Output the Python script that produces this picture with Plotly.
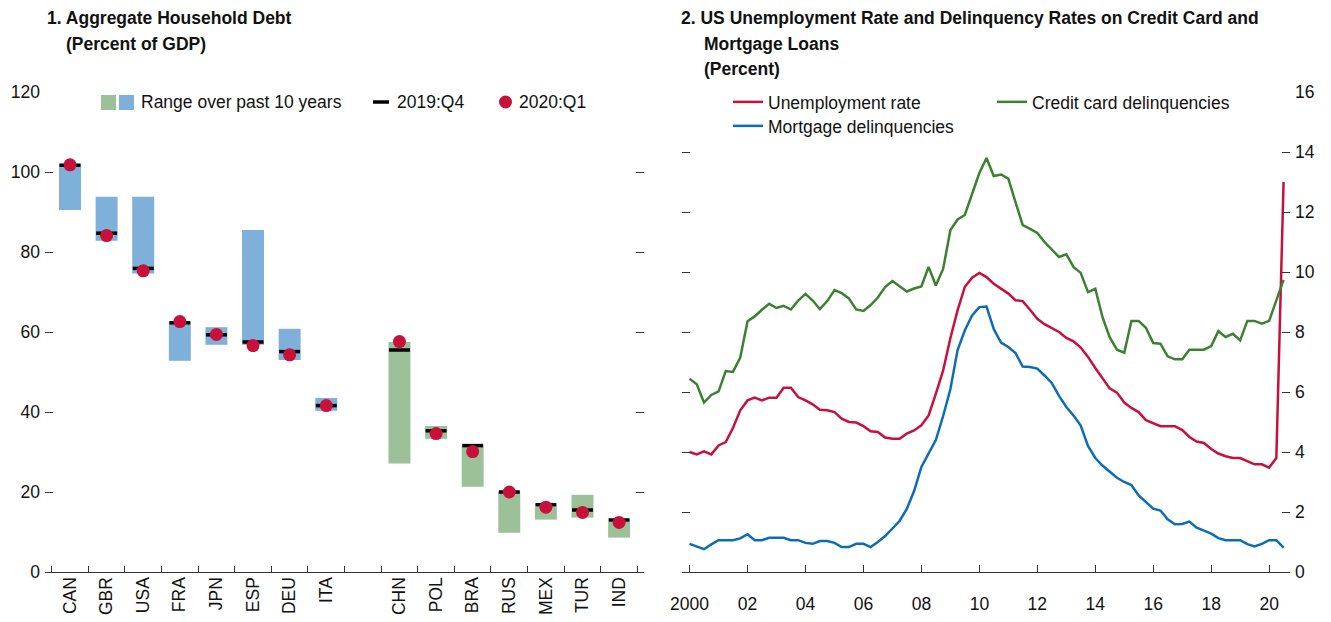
import plotly.graph_objects as go
import pandas as pd

# ---------------- Panel 1: Aggregate household debt (percent of GDP) ----------------
adv_countries = ["CAN", "GBR", "USA", "FRA", "JPN", "ESP", "DEU", "ITA"]
eme_countries = ["CHN", "POL", "BRA", "RUS", "MEX", "TUR", "IND"]
adv_low = [90.5, 82.8, 74.6, 52.8, 56.8, 56.8, 53.0, 40.3]
adv_high = [102.0, 93.8, 93.8, 62.5, 61.2, 85.5, 60.8, 43.5]
adv_2019q4 = [101.7, 84.7, 75.9, 62.3, 59.3, 57.5, 55.1, 41.6]
adv_2020q1 = [101.8, 84.1, 75.3, 62.6, 59.4, 56.6, 54.3, 41.6]
eme_low = [27.1, 33.3, 21.3, 9.8, 13.1, 13.6, 8.6]
eme_high = [57.5, 36.5, 31.3, 20.0, 16.3, 19.3, 12.5]
eme_2019q4 = [55.5, 35.3, 31.6, 20.0, 16.8, 15.5, 13.0]
eme_2020q1 = [57.6, 34.6, 30.1, 20.0, 16.2, 14.9, 12.4]
spacer = [" "]
left_yticks = [0, 20, 40, 60, 80, 100, 120]

# ---------------- Panel 2: US unemployment and delinquency rates (percent) ----------------
quarters = pd.date_range("2000-01-01", periods=83, freq="QS")
unemployment = [
    4.00, 3.92, 4.02, 3.92, 4.22, 4.33, 4.80, 5.39, 5.72, 5.81,
    5.72, 5.81, 5.81, 6.14, 6.14, 5.83, 5.72, 5.59, 5.41, 5.39,
    5.33, 5.11, 5.00, 4.98, 4.86, 4.69, 4.67, 4.48, 4.44, 4.44,
    4.61, 4.72, 4.89, 5.22, 5.94, 6.72, 7.80, 8.72, 9.50, 9.81,
    9.97, 9.83, 9.61, 9.44, 9.28, 9.06, 9.03, 8.74, 8.44, 8.26,
    8.13, 8.00, 7.80, 7.69, 7.48, 7.17, 6.80, 6.45, 6.12, 5.98,
    5.65, 5.47, 5.33, 5.06, 4.97, 4.86, 4.86, 4.86, 4.73, 4.50,
    4.35, 4.30, 4.10, 3.95, 3.86, 3.80, 3.80, 3.70, 3.59, 3.59,
    3.48, 3.80, 13.00,
]
credit_card = [
    6.44, 6.26, 5.65, 5.90, 6.02, 6.70, 6.67, 7.15, 8.36, 8.52,
    8.74, 8.94, 8.80, 8.87, 8.75, 9.05, 9.27, 9.05, 8.76, 9.03,
    9.40, 9.30, 9.12, 8.75, 8.70, 8.90, 9.15, 9.50, 9.70, 9.52,
    9.35, 9.45, 9.52, 10.17, 9.55, 10.10, 11.40, 11.75, 11.90, 12.60,
    13.30, 13.80, 13.20, 13.25, 13.11, 12.33, 11.56, 11.44, 11.30, 11.00,
    10.75, 10.50, 10.59, 10.17, 9.97, 9.33, 9.44, 8.50, 7.83, 7.41,
    7.31, 8.37, 8.37, 8.14, 7.63, 7.61, 7.19, 7.09, 7.09, 7.41,
    7.41, 7.41, 7.53, 8.03, 7.83, 7.94, 7.72, 8.37, 8.37, 8.28,
    8.37, 9.06, 9.74,
]
mortgage = [
    0.94, 0.86, 0.76, 0.92, 1.06, 1.06, 1.06, 1.12, 1.26, 1.06,
    1.06, 1.14, 1.14, 1.14, 1.06, 1.06, 0.97, 0.94, 1.03, 1.03,
    0.97, 0.83, 0.83, 0.94, 0.94, 0.83, 1.00, 1.20, 1.45, 1.70,
    2.10, 2.70, 3.50, 3.95, 4.40, 5.20, 6.10, 7.40, 8.05, 8.55,
    8.83, 8.85, 8.10, 7.65, 7.50, 7.30, 6.85, 6.83, 6.78, 6.55,
    6.30, 5.87, 5.50, 5.22, 4.88, 4.20, 3.80, 3.55, 3.35, 3.14,
    3.00, 2.90, 2.55, 2.34, 2.11, 2.05, 1.76, 1.59, 1.60, 1.68,
    1.48, 1.38, 1.28, 1.13, 1.06, 1.06, 1.06, 0.93, 0.85, 0.94,
    1.06, 1.06, 0.81,
]
right_tick_years = ["2000", "2002", "2004", "2006", "2008", "2010",
                    "2012", "2014", "2016", "2018", "2020"]
right_tick_text = ["2000", "02", "04", "06", "08", "10", "12", "14", "16", "18", "20"]
right_yticks = [0, 2, 4, 6, 8, 10, 12, 14, 16]

# ---------------- styling ----------------
FONT = "Liberation Sans, Arial, sans-serif"
FS = 17.5
RED = "#C8103A"
GREEN = "#3C8031"
BLUE = "#0B6CB8"
BAR_BLUE = "#7FB0D9"
BAR_GREEN = "#9CC199"
AX = "#333333"
TXT = "#111111"
W, H = 1331, 622


def px_x(p):
    return p / W


def px_y(p):
    return 1 - p / H


fig = go.Figure()

cats = adv_countries + spacer + eme_countries

# range bars
fig.add_trace(go.Bar(x=adv_countries, y=[h - l for h, l in zip(adv_high, adv_low)], base=adv_low,
                     marker=dict(color=BAR_BLUE, line=dict(width=0)), width=0.6,
                     showlegend=False, xaxis="x", yaxis="y", hoverinfo="skip"))
fig.add_trace(go.Bar(x=eme_countries, y=[h - l for h, l in zip(eme_high, eme_low)], base=eme_low,
                     marker=dict(color=BAR_GREEN, line=dict(width=0)), width=0.6,
                     showlegend=False, xaxis="x", yaxis="y", hoverinfo="skip"))
# 2019:Q4 dashes
fig.add_trace(go.Scatter(x=adv_countries + eme_countries, y=adv_2019q4 + eme_2019q4, mode="markers",
                         marker=dict(symbol="line-ew", size=15, line=dict(width=3.5, color="black")),
                         showlegend=False, xaxis="x", yaxis="y"))
# 2020:Q1 dots
fig.add_trace(go.Scatter(x=adv_countries + eme_countries, y=adv_2020q1 + eme_2020q1, mode="markers",
                         marker=dict(symbol="circle", size=13, color=RED, line=dict(width=0)),
                         showlegend=False, xaxis="x", yaxis="y"))

# right panel lines
fig.add_trace(go.Scatter(x=quarters, y=unemployment, mode="lines", name="Unemployment rate",
                         line=dict(color=RED, width=2.5), xaxis="x2", yaxis="y2", legend="legend"))
fig.add_trace(go.Scatter(x=quarters, y=credit_card, mode="lines", name="Credit card delinquencies",
                         line=dict(color=GREEN, width=2.5), xaxis="x2", yaxis="y2", legend="legend"))
fig.add_trace(go.Scatter(x=quarters, y=mortgage, mode="lines", name="Mortgage delinquencies",
                         line=dict(color=BLUE, width=2.5), xaxis="x2", yaxis="y2", legend="legend2"))

ydom = [px_y(572), px_y(92)]

annotations = [
    dict(text="<b>1. Aggregate Household Debt</b>", x=px_x(45), y=px_y(18)),
    dict(text="<b>(Percent of GDP)</b>", x=px_x(64), y=px_y(44)),
    dict(text="<b>2. US Unemployment Rate and Delinquency Rates on Credit Card and</b>", x=px_x(679), y=px_y(18)),
    dict(text="<b>Mortgage Loans</b>", x=px_x(702), y=px_y(44)),
    dict(text="<b>(Percent)</b>", x=px_x(702), y=px_y(69)),
    dict(text="Range over past 10 years", x=px_x(139), y=px_y(102)),
    dict(text="2019:Q4", x=px_x(395), y=px_y(102)),
    dict(text="2020:Q1", x=px_x(517), y=px_y(102)),
]
for a in annotations:
    a.update(xref="paper", yref="paper", xanchor="left", yanchor="middle", showarrow=False,
             font=dict(family=FONT, size=FS, color=TXT))

shapes = [
    dict(type="rect", x0=px_x(101), x1=px_x(116), y0=px_y(110), y1=px_y(95),
         fillcolor=BAR_GREEN, line=dict(width=0)),
    dict(type="rect", x0=px_x(119), x1=px_x(134), y0=px_y(110), y1=px_y(95),
         fillcolor=BAR_BLUE, line=dict(width=0)),
    dict(type="line", x0=px_x(373), x1=px_x(389), y0=px_y(102), y1=px_y(102),
         line=dict(color="black", width=3.5)),
    dict(type="circle", x0=px_x(499), x1=px_x(512), y0=px_y(108.5), y1=px_y(95.5),
         fillcolor=RED, line=dict(width=0)),
]
for s in shapes:
    s.update(xref="paper", yref="paper")

tickfont = dict(family=FONT, size=FS, color=TXT)
legfont = dict(family=FONT, size=FS, color=TXT)

fig.update_layout(
    width=W, height=H,
    margin=dict(l=0, r=0, t=0, b=0),
    paper_bgcolor="white", plot_bgcolor="white",
    font=dict(family=FONT, size=FS, color=TXT),
    barmode="overlay",
    annotations=annotations,
    shapes=shapes,
    xaxis=dict(domain=[px_x(45), px_x(644)], anchor="y", type="category",
               categoryorder="array", categoryarray=cats, range=[-0.683, 15.68],
               tickson="boundaries", ticks="inside", ticklen=6, tickwidth=1.3, tickcolor=AX,
               showline=True, linecolor=AX, linewidth=1.3, tickangle=-90,
               ticklabelstandoff=-3,
               tickfont=tickfont, showgrid=False, zeroline=False, automargin=False),
    yaxis=dict(domain=ydom, anchor="x", range=[0, 120], tickvals=left_yticks,
               ticks="inside", ticklen=8, tickwidth=1.3, tickcolor=AX, mirror="ticks",
               showline=False, showgrid=False, zeroline=False, tickfont=tickfont,
               ticklabelstandoff=4, automargin=False),
    xaxis2=dict(domain=[px_x(681.7), px_x(1290)], anchor="y2", type="date",
                range=["1999-09-24", "2020-09-20"], tickvals=right_tick_years,
                ticktext=right_tick_text, ticks="inside", ticklen=7, tickwidth=1.3,
                tickcolor=AX, showline=True, linecolor=AX, linewidth=1.3,
                ticklabelstandoff=16,
                tickfont=tickfont, showgrid=False, zeroline=False, automargin=False),
    yaxis2=dict(domain=ydom, anchor="x2", side="right", range=[0, 16], tickvals=right_yticks,
                ticks="inside", ticklen=8, tickwidth=1.3, tickcolor=AX, mirror="ticks",
                showline=False, showgrid=False, zeroline=False, tickfont=tickfont,
                ticklabelstandoff=4, automargin=False),
    legend=dict(orientation="h", x=px_x(728), xanchor="left", y=px_y(84), yanchor="top",
                entrywidth=219, bgcolor="rgba(0,0,0,0)", font=legfont,
                tracegroupgap=0, itemwidth=30),
    legend2=dict(orientation="h", x=px_x(728), xanchor="left", y=px_y(108), yanchor="top",
                 bgcolor="rgba(0,0,0,0)", font=legfont, itemwidth=30),
    showlegend=True,
)

fig.write_html("out.html", config={"displayModeBar": False},
               post_script="document.body.style.margin='0px';")
